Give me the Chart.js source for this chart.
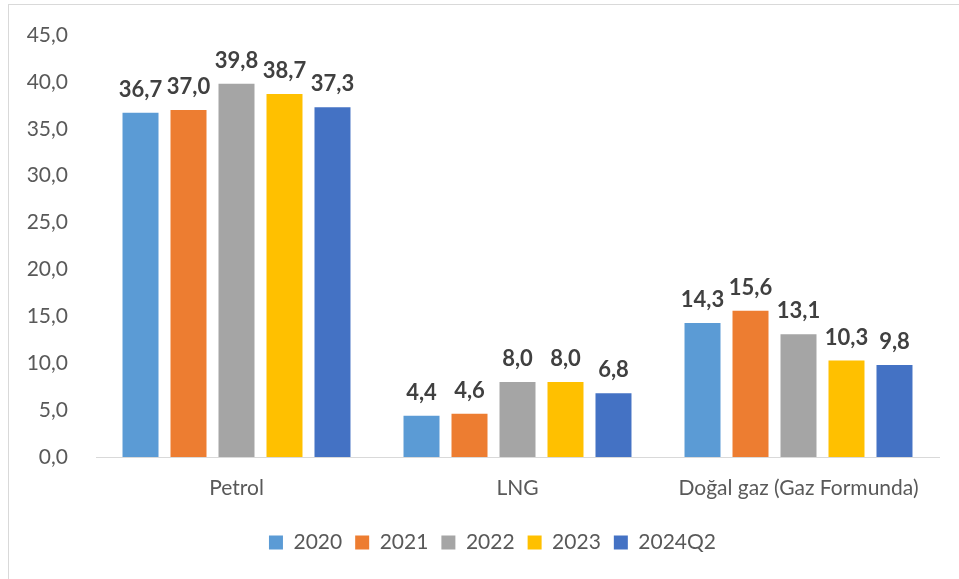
<!DOCTYPE html>
<html lang="tr">
<head>
    <meta charset="UTF-8">
    <title>Petrol, LNG, Doğal gaz</title>
    <script src="https://cdn.jsdelivr.net/npm/chart.js"></script>
    <style>
        body { margin: 0; background: #fff; overflow: hidden; }
        #frame {
            position: absolute; left: 8px; top: 4px; width: 951px; height: 575px;
            border-top: 1px solid #d9d9d9; border-left: 1px solid #d9d9d9;
        }
        #wrap { position: absolute; left: 0; top: 0; width: 959px; height: 579px; }
    </style>
</head>
<body>
    <div id="frame"></div>
    <div id="wrap"><canvas id="chart"></canvas></div>

    <script>
        // Veriler
        const categories = ['Petrol', 'LNG', 'Doğal gaz (Gaz Formunda)'];
        const seriesNames = ['2020', '2021', '2022', '2023', '2024Q2'];
        const v2020 = [36.7, 4.4, 14.3];
        const v2021 = [37.0, 4.6, 15.6];
        const v2022 = [39.8, 8.0, 13.1];
        const v2023 = [38.7, 8.0, 10.3];
        const v2024Q2 = [37.3, 6.8, 9.8];
        const colors = ['#5B9BD5', '#ED7D31', '#A5A5A5', '#FFC000', '#4472C4'];

        const fmt = v => v.toFixed(1).replace('.', ',');
        const FONT = 'Lato';

        // Değer etiketleri
        const valueLabels = {
            id: 'valueLabels',
            afterDatasetsDraw(chart) {
                const ctx = chart.ctx;
                ctx.save();
                ctx.font = 'bold 22px ' + FONT;
                ctx.fillStyle = '#404040';
                ctx.textAlign = 'center';
                ctx.textBaseline = 'middle';
                chart.data.datasets.forEach((ds, i) => {
                    chart.getDatasetMeta(i).data.forEach((bar, j) => {
                        ctx.fillText(fmt(ds.data[j]), bar.x, bar.y - 23);
                    });
                });
                ctx.restore();
            }
        };

        // Lejantı biraz sağa kaydır (orijinalde grafik alanına göre ortalı)
        const legendShift = {
            id: 'legendShift',
            afterLayout(chart) {
                chart.legend.left += 23;
                chart.legend.right += 23;
            }
        };

        const allValues = [v2020, v2021, v2022, v2023, v2024Q2];

        new Chart(document.getElementById('chart'), {
            type: 'bar',
            data: {
                labels: categories,
                datasets: seriesNames.map((name, i) => ({
                    label: name,
                    data: allValues[i],
                    backgroundColor: colors[i],
                    categoryPercentage: 0.854,
                    barPercentage: 0.75
                }))
            },
            options: {
                responsive: true,
                maintainAspectRatio: false,
                animation: false,
                layout: { padding: { top: 35, right: 20, bottom: 16, left: 0 } },
                plugins: {
                    tooltip: { enabled: false },
                    legend: {
                        position: 'bottom',
                        labels: {
                            boxWidth: 14, boxHeight: 14, padding: 13,
                            color: '#595959',
                            font: { family: FONT, size: 21 }
                        }
                    }
                },
                scales: {
                    x: {
                        grid: { display: false, drawTicks: false },
                        border: { display: true, color: '#d9d9d9', width: 1 },
                        ticks: { color: '#595959', padding: 19, font: { family: FONT, size: 21 } },
                        afterFit(s) { s.height = 62; s.paddingLeft = 0; s.paddingRight = 0; }
                    },
                    y: {
                        min: 0, max: 45,
                        grid: { display: false, drawTicks: false },
                        border: { display: false },
                        ticks: {
                            stepSize: 5, color: '#595959', padding: 28,
                            font: { family: FONT, size: 21 },
                            callback: v => fmt(v)
                        },
                        afterFit(s) { s.width = 96; s.paddingTop = 0; s.paddingBottom = 0; }
                    }
                }
            },
            plugins: [valueLabels, legendShift]
        });
    </script>
</body>
</html>
